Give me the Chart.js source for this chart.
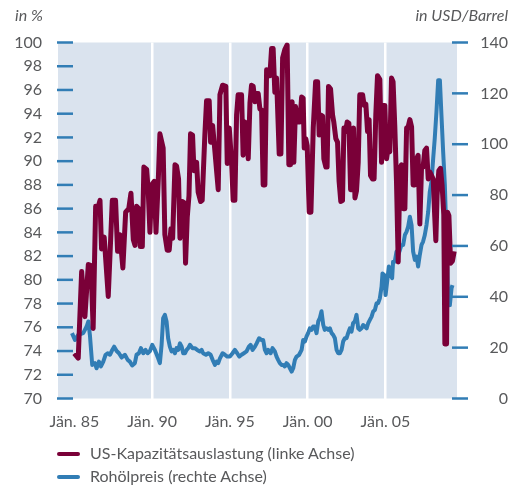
<!DOCTYPE html>
<html>
<head>
<meta charset="utf-8">
<script src="https://cdn.jsdelivr.net/npm/chart.js@4/dist/chart.umd.min.js"></script>
<style>
  html, body { margin: 0; padding: 0; background: #fff; }
  #wrap { position: relative; width: 519px; height: 488px; font-family: Lato, "Open Sans", sans-serif; color: #58595b; }
  canvas { position: absolute; left: 0; top: 0; }
  .unit { position: absolute; top: 5px; font-size: 16px; font-style: italic; line-height: 20px; white-space: nowrap; }
  .leg { position: absolute; left: 57px; font-size: 16px; line-height: 20px; white-space: nowrap; }
  .leg span.sw { display: inline-block; width: 23px; height: 4px; border-radius: 2px; vertical-align: middle; margin-right: 10px; position: relative; top: -1px; }
</style>
</head>
<body>
<div id="wrap">
  <canvas id="c" width="519" height="488"></canvas>
  <div class="unit" style="left:15px;">in %</div>
  <div class="unit" style="right:11px;">in USD/Barrel</div>
  <div class="leg" style="top:443px;"><span class="sw" style="background:#7a0038"></span>US-Kapazitätsauslastung (linke Achse)</div>
  <div class="leg" style="top:466px;"><span class="sw" style="background:#317db5"></span>Rohölpreis (rechte Achse)</div>
</div>
<script>
// ---- data ----
const capYears = [1985.00,1985.25,1985.47,1985.68,1985.90,1986.07,1986.21,1986.37,1986.50,1986.65,1986.75,1986.92,1987.18,1987.44,1987.65,1987.78,1987.93,1988.12,1988.30,1988.50,1988.64,1988.79,1988.90,1989.00,1989.15,1989.24,1989.37,1989.47,1989.65,1989.75,1989.86,1989.97,1990.14,1990.25,1990.40,1990.50,1990.71,1990.82,1990.97,1991.10,1991.21,1991.32,1991.47,1991.57,1991.70,1991.79,1991.93,1992.06,1992.15,1992.26,1992.37,1992.47,1992.60,1992.69,1992.86,1992.96,1993.12,1993.22,1993.39,1993.50,1993.67,1993.76,1993.89,1994.04,1994.15,1994.25,1994.36,1994.53,1994.74,1994.83,1994.96,1995.11,1995.21,1995.32,1995.43,1995.53,1995.75,1995.85,1995.96,1996.07,1996.18,1996.29,1996.39,1996.50,1996.61,1996.72,1996.82,1996.93,1997.04,1997.14,1997.25,1997.36,1997.46,1997.57,1997.68,1997.78,1997.89,1998.00,1998.17,1998.28,1998.39,1998.53,1998.68,1998.79,1998.90,1999.00,1999.11,1999.22,1999.35,1999.50,1999.61,1999.71,1999.78,1999.88,1999.97,2000.10,2000.21,2000.36,2000.51,2000.64,2000.74,2000.83,2000.96,2001.04,2001.17,2001.25,2001.34,2001.47,2001.60,2001.68,2001.81,2001.92,2002.02,2002.13,2002.24,2002.33,2002.44,2002.54,2002.65,2002.76,2002.89,2002.95,2003.04,2003.14,2003.25,2003.35,2003.53,2003.63,2003.74,2003.85,2003.95,2004.04,2004.17,2004.27,2004.38,2004.49,2004.64,2004.75,2004.85,2004.96,2005.07,2005.17,2005.28,2005.39,2005.49,2005.60,2005.71,2005.82,2005.93,2006.03,2006.14,2006.25,2006.36,2006.46,2006.57,2006.68,2006.78,2006.89,2007.00,2007.10,2007.21,2007.32,2007.42,2007.53,2007.64,2007.75,2007.85,2007.96,2008.07,2008.17,2008.24,2008.32,2008.43,2008.54,2008.64,2008.75,2008.82,2008.93,2008.99,2009.08,2009.19,2009.31,2009.42];
const capValues = [73.8,73.4,80.7,76.9,81.3,81.2,75.9,86.2,86.0,86.7,82.6,83.6,78.6,86.7,86.7,82.4,83.8,81.0,85.7,86.0,87.3,83.4,82.9,86.2,86.0,82.8,82.8,89.5,89.3,87.5,84.0,88.0,88.3,84.0,88.5,92.3,91.1,83.8,82.5,82.5,84.3,83.5,89.7,89.6,88.5,83.5,86.6,86.5,81.4,85.3,87.1,92.3,92.2,89.2,89.9,87.4,86.6,86.7,92.2,95.1,95.1,91.6,93.0,90.8,89.1,87.6,95.6,96.4,96.3,89.8,92.8,89.9,86.7,86.7,93.9,95.6,95.6,90.5,93.3,93.2,90.2,94.9,96.4,96.3,95.0,95.7,95.7,94.4,94.3,88.0,88.0,97.7,97.5,97.2,99.5,99.5,95.8,97.0,90.6,90.6,98.7,99.4,99.8,89.7,89.7,95.0,89.9,94.6,93.3,93.3,95.4,95.3,91.1,91.9,91.3,85.7,85.7,92.8,96.7,96.7,92.2,93.9,93.8,90.2,89.5,89.5,96.3,96.1,93.9,93.3,91.9,91.6,88.3,86.6,86.7,92.8,92.5,93.3,93.2,87.6,87.6,92.8,86.9,87.5,89.9,95.6,95.6,94.7,94.8,92.5,93.5,88.8,88.5,88.5,93.9,97.2,96.9,89.9,94.7,94.7,90.2,91.1,90.8,97.0,96.7,93.0,88.3,81.5,89.4,89.7,86.0,86.0,92.8,92.9,93.5,92.9,88.0,88.0,90.2,90.5,84.7,89.5,89.5,90.9,91.1,88.5,89.1,88.8,88.5,85.3,83.3,87.1,89.2,89.4,88.0,85.5,74.6,74.6,85.7,85.4,81.4,81.6,82.4];

const oilYears = [1984.85,1985.04,1985.25,1985.57,1985.79,1985.90,1986.00,1986.15,1986.32,1986.43,1986.58,1986.71,1986.86,1987.01,1987.14,1987.29,1987.44,1987.56,1987.72,1987.87,1988.04,1988.25,1988.43,1988.57,1988.72,1988.89,1989.00,1989.15,1989.28,1989.43,1989.58,1989.71,1989.86,1990.01,1990.18,1990.39,1990.50,1990.61,1990.71,1990.82,1990.93,1991.03,1991.14,1991.25,1991.36,1991.47,1991.57,1991.68,1991.79,1991.90,1992.00,1992.11,1992.22,1992.32,1992.43,1992.60,1992.75,1992.90,1993.07,1993.18,1993.28,1993.46,1993.61,1993.76,1993.89,1994.04,1994.15,1994.25,1994.36,1994.53,1994.68,1994.83,1995.00,1995.17,1995.32,1995.47,1995.60,1995.75,1995.90,1996.07,1996.22,1996.33,1996.46,1996.61,1996.72,1996.88,1997.04,1997.14,1997.25,1997.36,1997.46,1997.62,1997.74,1997.89,1998.00,1998.10,1998.21,1998.32,1998.43,1998.53,1998.64,1998.75,1998.86,1998.97,1999.07,1999.18,1999.29,1999.45,1999.61,1999.71,1999.82,1999.93,2000.03,2000.14,2000.25,2000.35,2000.46,2000.57,2000.68,2000.78,2000.89,2001.00,2001.10,2001.21,2001.32,2001.43,2001.54,2001.64,2001.75,2001.86,2001.96,2002.07,2002.18,2002.28,2002.39,2002.50,2002.60,2002.71,2002.82,2002.92,2003.03,2003.14,2003.25,2003.35,2003.46,2003.57,2003.68,2003.79,2003.89,2004.00,2004.11,2004.21,2004.32,2004.43,2004.53,2004.64,2004.75,2004.81,2004.92,2005.01,2005.11,2005.22,2005.33,2005.43,2005.49,2005.60,2005.71,2005.82,2005.93,2006.03,2006.14,2006.25,2006.36,2006.46,2006.57,2006.68,2006.78,2006.89,2007.00,2007.10,2007.21,2007.32,2007.42,2007.53,2007.64,2007.75,2007.85,2007.96,2008.07,2008.17,2008.28,2008.39,2008.50,2008.60,2008.71,2008.82,2008.93,2009.03,2009.14,2009.25,2009.31];
const oilValues = [25.7,23.0,25.0,25.7,28.3,30.3,25.0,13.2,13.9,11.9,14.5,12.6,14.5,17.2,17.8,17.2,19.1,20.4,18.7,17.8,16.1,17.2,15.2,14.5,13.0,13.9,17.2,17.8,19.8,17.8,19.1,17.8,18.7,21.1,19.1,15.8,13.9,21.1,31.6,32.9,30.3,23.7,20.4,18.5,19.1,17.8,19.8,19.1,21.7,20.4,17.8,17.8,19.1,19.8,21.1,19.8,19.8,19.1,18.5,19.1,17.8,17.2,17.8,17.2,15.2,13.2,14.5,13.9,15.8,17.8,17.2,16.5,16.5,17.8,19.1,17.8,16.5,17.2,17.8,18.5,20.4,21.1,19.1,20.4,21.7,23.7,23.0,23.0,19.1,17.8,19.1,17.8,19.8,18.5,16.5,15.2,13.9,13.2,13.2,12.6,13.9,13.2,11.9,10.6,11.9,15.2,16.5,17.2,19.1,23.0,22.4,24.4,25.7,27.6,27.0,28.3,28.3,25.7,30.3,31.6,34.3,29.0,27.0,27.6,27.0,27.6,25.7,25.0,23.7,19.1,17.8,17.8,19.1,22.4,23.7,23.7,25.7,27.6,26.3,29.6,30.3,32.9,27.6,27.0,27.6,28.9,28.3,27.6,29.6,30.9,32.2,34.2,34.8,37.5,37.5,39.4,44.0,49.2,48.6,40.7,46.0,51.9,48.6,47.3,53.8,53.8,57.8,56.5,58.4,60.4,60.4,64.3,65.6,67.6,71.5,68.2,57.8,54.5,55.8,51.9,56.5,60.4,61.7,64.3,68.2,73.5,81.3,85.3,94.4,102.3,112.8,125.2,125.2,111.5,97.0,83.9,61.7,39.4,36.7,43.4,44.6];

const xTickYears = [1985, 1990, 1995, 2000, 2005];
const xTickLabels = ['Jän. 85', 'Jän. 90', 'Jän. 95', 'Jän. 00', 'Jän. 05'];
const leftAxis = { min: 70, max: 100, step: 2 };
const rightAxis = { min: 0, max: 140, step: 20 };
const seriesNames = ['US-Kapazitätsauslastung (linke Achse)', 'Rohölpreis (rechte Achse)'];

// ---- styles ----
const RED = '#7a0038', BLUE = '#317db5', BG = '#dae3ee', TXT = '#58595b';
const FONT = { family: 'Lato, "Open Sans", sans-serif', size: 16 };

const bgPlugin = {
  id: 'bg',
  beforeDraw(chart) {
    const { ctx, chartArea: a } = chart;
    ctx.save();
    ctx.fillStyle = BG;
    ctx.fillRect(a.left, a.top, a.right - a.left, a.bottom - a.top);
    ctx.restore();
  }
};
const tickMarks = {
  id: 'tickMarks',
  afterDraw(chart) {
    const { ctx } = chart;
    ctx.save();
    ctx.strokeStyle = BLUE;
    ctx.lineWidth = 2.5;
    const draw = (scale, x0, x1) => {
      scale.ticks.forEach(t => {
        const y = scale.getPixelForValue(t.value);
        ctx.beginPath(); ctx.moveTo(x0, y); ctx.lineTo(x1, y); ctx.stroke();
      });
    };
    draw(chart.scales.y, 57, 73);
    draw(chart.scales.y1, 452, 468);
    ctx.restore();
  }
};

new Chart(document.getElementById('c'), {
  type: 'line',
  data: {
    datasets: [
      { label: seriesNames[0], data: capYears.map((x, i) => ({ x, y: capValues[i] })), yAxisID: 'y',
        borderColor: RED, backgroundColor: RED, borderWidth: 5, pointRadius: 0, tension: 0, borderJoinStyle: 'round' },
      { label: seriesNames[1], data: oilYears.map((x, i) => ({ x, y: oilValues[i] })), yAxisID: 'y1',
        borderColor: BLUE, backgroundColor: BLUE, borderWidth: 4, pointRadius: 0, tension: 0, borderJoinStyle: 'round' }
    ]
  },
  options: {
    responsive: false, animation: false, devicePixelRatio: 1,
    layout: { padding: { top: 42.5, right: 11, left: 0, bottom: 0 } },
    plugins: { legend: { display: false }, tooltip: { enabled: false } },
    scales: {
      x: {
        type: 'linear', min: 1983.95, max: 2009.6,
        afterBuildTicks: s => { s.ticks = xTickYears.map(v => ({ value: v })); },
        afterFit: s => { s.height = 89.5; },
        ticks: { font: FONT, color: TXT, padding: 14, maxRotation: 0, autoSkip: false,
                 callback: v => xTickLabels[xTickYears.indexOf(v)] },
        grid: { color: c => (c.tick && c.tick.value === 1985) ? 'rgba(0,0,0,0)' : '#ffffff', lineWidth: 2.5, drawTicks: false },
        border: { display: false }
      },
      y: {
        position: 'left', min: leftAxis.min, max: leftAxis.max,
        afterFit: s => { s.width = 58; },
        ticks: { stepSize: leftAxis.step, font: FONT, color: TXT, padding: 16 },
        grid: { display: false, drawTicks: false },
        border: { display: false }
      },
      y1: {
        position: 'right', min: rightAxis.min, max: rightAxis.max,
        afterFit: s => { s.width = 51; },
        ticks: { stepSize: rightAxis.step, font: FONT, color: TXT, crossAlign: 'far' },
        grid: { display: false, drawTicks: false },
        border: { display: false }
      }
    }
  },
  plugins: [bgPlugin, tickMarks]
});
</script>
</body>
</html>
